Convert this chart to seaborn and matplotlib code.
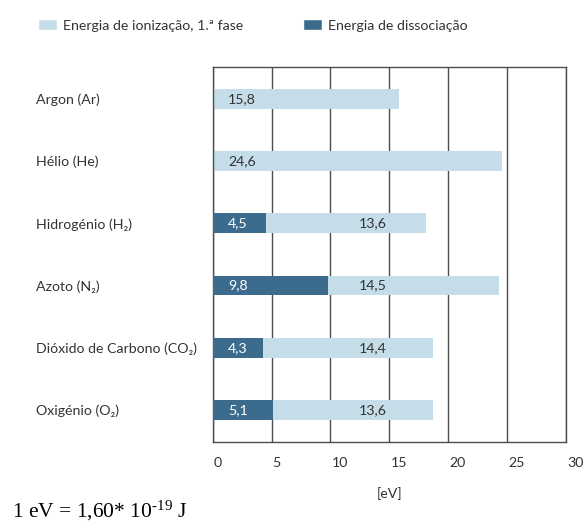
import matplotlib
matplotlib.use("Agg")
import matplotlib.pyplot as plt
import matplotlib.transforms as mtransforms
from matplotlib.patches import Patch
import seaborn as sns
import pandas as pd

# Energies (eV) per gas
gases = ["Argon (Ar)", "Hélio (He)", "Hidrogénio (H₂)", "Azoto (N₂)",
         "Dióxido de Carbono (CO₂)", "Oxigénio (O₂)"]
dissociation = [0.0, 0.0, 4.5, 9.8, 4.3, 5.1]
ionization = [15.8, 24.6, 13.6, 14.5, 14.4, 13.6]
x_ticks = [0, 5, 10, 15, 20, 25, 30]

LIGHT = "#c5dde9"
DARK = "#3b6b8d"
TEXT = "#333333"
LINE = "#4d4d4d"
FS = 10.2

sns.set_style("white")
plt.rcParams["font.family"] = ["Lato", "DejaVu Sans"]
plt.rcParams["mathtext.fontset"] = "custom"
plt.rcParams["mathtext.rm"] = "Liberation Serif"
plt.rcParams["mathtext.it"] = "Liberation Serif:italic"

df = pd.DataFrame({"gas": gases, "diss": dissociation, "ion": ionization})
df["total"] = df["diss"] + df["ion"]

fig = plt.figure(figsize=(5.87, 5.25), dpi=100)
ax = fig.add_axes([212.7 / 587, 1 - 441.7 / 525, (566 - 212.7) / 587, (441.7 - 67) / 525])

# stacked horizontal bars: full length in light, dissociation part overlaid in dark
sns.barplot(data=df, x="total", y="gas", order=gases, orient="h", color=LIGHT,
            saturation=1, width=0.32, linewidth=0, ax=ax, zorder=2)
sns.barplot(data=df, x="diss", y="gas", order=gases, orient="h", color=DARK,
            saturation=1, width=0.32, linewidth=0, ax=ax, zorder=3)

def fmt(v):
    return f"{v:.1f}".replace(".", ",")

for i, row in df.iterrows():
    if row["diss"] > 0:
        ax.text(1.3, i, fmt(row["diss"]), color="white", fontsize=FS,
                ha="left", va="center", zorder=4)
        ax.text(13.6, i, fmt(row["ion"]), color=TEXT, fontsize=FS,
                ha="center", va="center", zorder=4)
    else:
        ax.text(1.3, i, fmt(row["ion"]), color=TEXT, fontsize=FS,
                ha="left", va="center", zorder=4)

ax.set_xlim(0, 30)
ax.set_ylim(5.51, -0.51)
ax.set_xticks(x_ticks)
ax.set_xticklabels([str(t) for t in x_ticks])
ax.set_axisbelow(True)
ax.xaxis.grid(True, color=LINE, linewidth=1.0)
ax.yaxis.grid(False)
for s in ax.spines.values():
    s.set_visible(True)
    s.set_color(LINE)
    s.set_linewidth(1.0)

ax.tick_params(axis="both", length=0, labelsize=FS, labelcolor=TEXT)
ax.tick_params(axis="x", pad=11)
ax.tick_params(axis="y", pad=(212.7 - 36) * 72 / 100)
for lbl in ax.get_yticklabels():
    lbl.set_ha("left")
shift = mtransforms.ScaledTranslation(0.01, 0, fig.dpi_scale_trans)
for lbl in ax.get_xticklabels():
    lbl.set_ha("left")
    lbl.set_transform(lbl.get_transform() + shift)

ax.set_ylabel("")
ax.set_xlabel("[eV]", fontsize=FS, color=TEXT, labelpad=13)

fig.legend(handles=[Patch(facecolor=LIGHT, label="Energia de ionização, 1.ª fase"),
                    Patch(facecolor=DARK, label="Energia de dissociação")],
           loc="upper left", bbox_to_anchor=(38 / 587, 1 - 19 / 525), ncol=2,
           frameon=False, handlelength=1.37, handleheight=0.86, handletextpad=0.41,
           columnspacing=4.2, borderpad=0, borderaxespad=0, fontsize=FS,
           labelcolor=TEXT)

fig.text(12 / 587, 1 - 517 / 525, "1 eV = 1,60* 10$^{\u2010 19}$ J",
         fontfamily="Liberation Serif", fontsize=15.5, color="black",
         ha="left", va="baseline")

fig.savefig("out.png", dpi=100)
